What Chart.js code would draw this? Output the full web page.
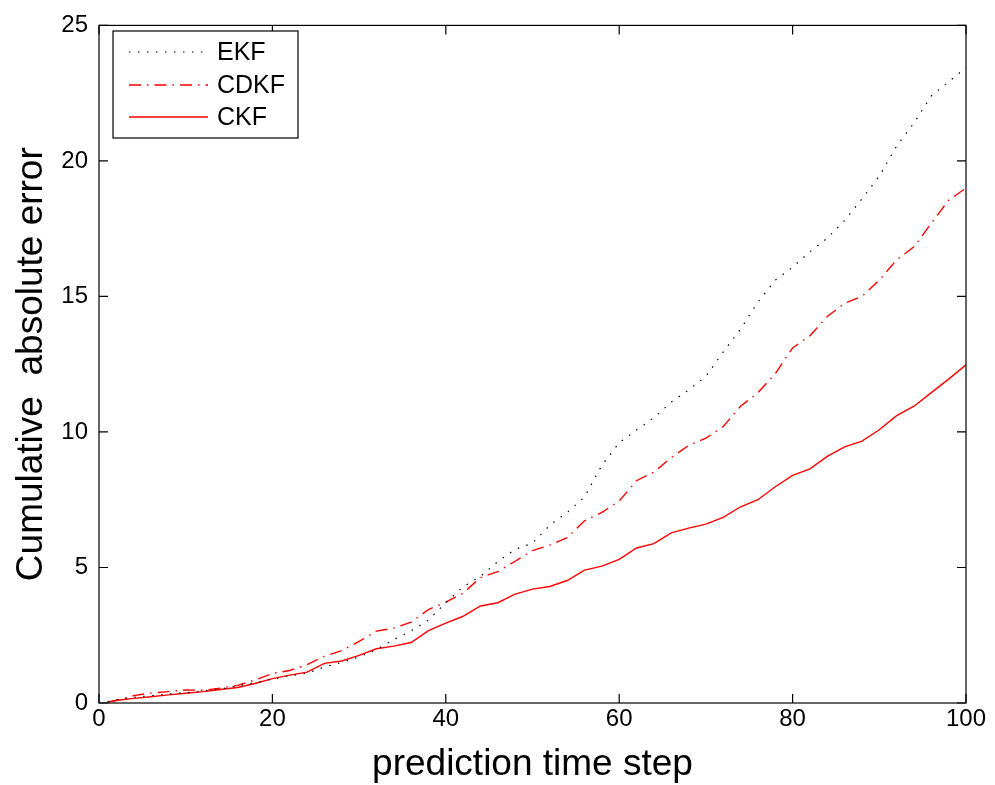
<!DOCTYPE html>
<html lang="en">
<head>
  <meta charset="UTF-8">
  <title>Cumulative absolute error</title>
  <script src="https://cdn.jsdelivr.net/npm/chart.js"></script>
  <style>
    body {
      margin: 0;
      background: #fff;
    }
    #errChart {
      display: block;
    }
  </style>
</head>
<body>
  <canvas id="errChart" width="995" height="785"></canvas>

  <script>
    // prediction time steps the values were read at
    const steps = [1, 2, 4, 6, 8, 10, 12, 14, 16, 18, 20, 22, 24, 26, 28, 30, 32, 34, 36, 38, 40,
      42, 44, 46, 48, 50, 52, 54, 56, 58, 60, 62, 64, 66, 68, 70, 72, 74, 76, 78, 80,
      82, 84, 86, 88, 90, 92, 94, 96, 98, 100];

    const ekf = [0.05, 0.12, 0.21, 0.27, 0.33, 0.38, 0.44, 0.52, 0.63, 0.75, 0.88, 1.0, 1.1, 1.33, 1.5, 1.7,
      1.97, 2.34, 2.66, 3.06, 3.7, 4.29, 4.67, 5.22, 5.67, 5.9, 6.56, 7.03, 7.6, 8.77, 9.6,
      10.07, 10.53, 11.1, 11.55, 12.05, 12.95, 13.8, 14.79, 15.6, 16.08, 16.65, 17.15, 17.8,
      18.6, 19.44, 20.55, 21.4, 22.4, 22.92, 23.45];

    const cdkf = [0.03, 0.1, 0.27, 0.37, 0.42, 0.48, 0.47, 0.55, 0.65, 0.85, 1.09, 1.2, 1.42, 1.72, 1.93, 2.27,
      2.65, 2.76, 2.98, 3.45, 3.72, 4.05, 4.63, 4.85, 5.23, 5.62, 5.83, 6.1, 6.72, 7.03, 7.45,
      8.2, 8.52, 9.05, 9.5, 9.77, 10.2, 10.95, 11.45, 12.15, 13.1, 13.55, 14.26, 14.75,
      15.0, 15.6, 16.35, 16.83, 17.7, 18.55, 19.0];

    const ckf = [0.03, 0.09, 0.17, 0.23, 0.3, 0.36, 0.42, 0.5, 0.57, 0.72, 0.9, 1.03, 1.14, 1.46, 1.55, 1.76,
      2.0, 2.1, 2.23, 2.67, 2.95, 3.2, 3.58, 3.7, 4.02, 4.2, 4.3, 4.52, 4.9, 5.05, 5.3,
      5.72, 5.88, 6.28, 6.45, 6.6, 6.85, 7.24, 7.5, 7.98, 8.4, 8.64, 9.1, 9.45, 9.66,
      10.08, 10.6, 10.95, 11.45, 11.95, 12.48];

    const toPoints = vals => vals.map((v, i) => ({ x: steps[i], y: v }));

    Chart.defaults.font.family = "'Liberation Sans', Arial, sans-serif";
    Chart.defaults.color = '#000';

    // matlab style box with inward ticks on all four sides, plus the legend
    const framePlugin = {
      id: 'frame',
      afterDraw(chart) {
        const { ctx, chartArea: a, scales } = chart;
        const tl = 9;
        ctx.save();
        ctx.strokeStyle = '#000';
        ctx.lineWidth = 1.2;
        ctx.strokeRect(a.left, a.top, a.right - a.left, a.bottom - a.top);
        ctx.beginPath();
        scales.x.ticks.forEach(t => {
          const px = scales.x.getPixelForValue(t.value);
          ctx.moveTo(px, a.bottom); ctx.lineTo(px, a.bottom - tl);
          ctx.moveTo(px, a.top); ctx.lineTo(px, a.top + tl);
        });
        scales.y.ticks.forEach(t => {
          const py = scales.y.getPixelForValue(t.value);
          ctx.moveTo(a.left, py); ctx.lineTo(a.left + tl, py);
          ctx.moveTo(a.right, py); ctx.lineTo(a.right - tl, py);
        });
        ctx.stroke();

        // legend
        const lx = 113, ly = 31, lw = 185, lh = 107;
        ctx.fillStyle = '#fff';
        ctx.fillRect(lx, ly, lw, lh);
        ctx.lineWidth = 1.2;
        ctx.strokeRect(lx, ly, lw, lh);
        const rows = [52, 85, 117];
        ctx.font = "25px 'Liberation Sans', Arial, sans-serif";
        ctx.textBaseline = 'middle';
        chart.data.datasets.forEach((ds, i) => {
          const y = rows[i];
          ctx.beginPath();
          ctx.strokeStyle = ds.borderColor;
          ctx.lineWidth = ds.borderWidth;
          ctx.setLineDash(ds.borderDash || []);
          ctx.moveTo(129, y); ctx.lineTo(208, y);
          ctx.stroke();
          ctx.setLineDash([]);
          ctx.fillStyle = '#000';
          ctx.fillText(ds.label, 217, y + 1);
        });
        ctx.restore();
      }
    };

    new Chart(document.getElementById('errChart').getContext('2d'), {
      type: 'line',
      data: {
        datasets: [
          {
            label: 'EKF',
            data: toPoints(ekf),
            borderColor: '#000',
            borderWidth: 1.2,
            borderDash: [1.5, 7.5],
            pointRadius: 0,
            fill: false
          },
          {
            label: 'CDKF',
            data: toPoints(cdkf),
            borderColor: '#ff0000',
            borderWidth: 1.4,
            borderDash: [12, 6, 1.5, 6],
            pointRadius: 0,
            fill: false
          },
          {
            label: 'CKF',
            data: toPoints(ckf),
            borderColor: '#ff0000',
            borderWidth: 1.4,
            pointRadius: 0,
            fill: false
          }
        ]
      },
      options: {
        responsive: false,
        animation: false,
        devicePixelRatio: 1,
        layout: { padding: { left: 0, top: 18, right: 29, bottom: 0 } },
        plugins: {
          legend: { display: false },
          tooltip: { enabled: false }
        },
        scales: {
          x: {
            type: 'linear',
            min: 0,
            max: 100,
            grid: { display: false, drawTicks: false },
            border: { display: false },
            ticks: { stepSize: 20, padding: 2, font: { size: 24 } },
            title: {
              display: true,
              text: 'prediction time step',
              font: { size: 37, lineHeight: 1 },
              padding: { top: 0, bottom: 2 }
            },
            afterFit: s => { s.height = 82; }
          },
          y: {
            min: 0,
            max: 25,
            grid: { display: false, drawTicks: false },
            border: { display: false },
            ticks: { stepSize: 5, padding: 11, font: { size: 24 } },
            title: {
              display: true,
              text: 'Cumulative  absolute error',
              font: { size: 37 },
              padding: { top: 10, bottom: 0 }
            },
            afterFit: s => { s.width = 99; }
          }
        }
      },
      plugins: [framePlugin]
    });
  </script>
</body>
</html>
